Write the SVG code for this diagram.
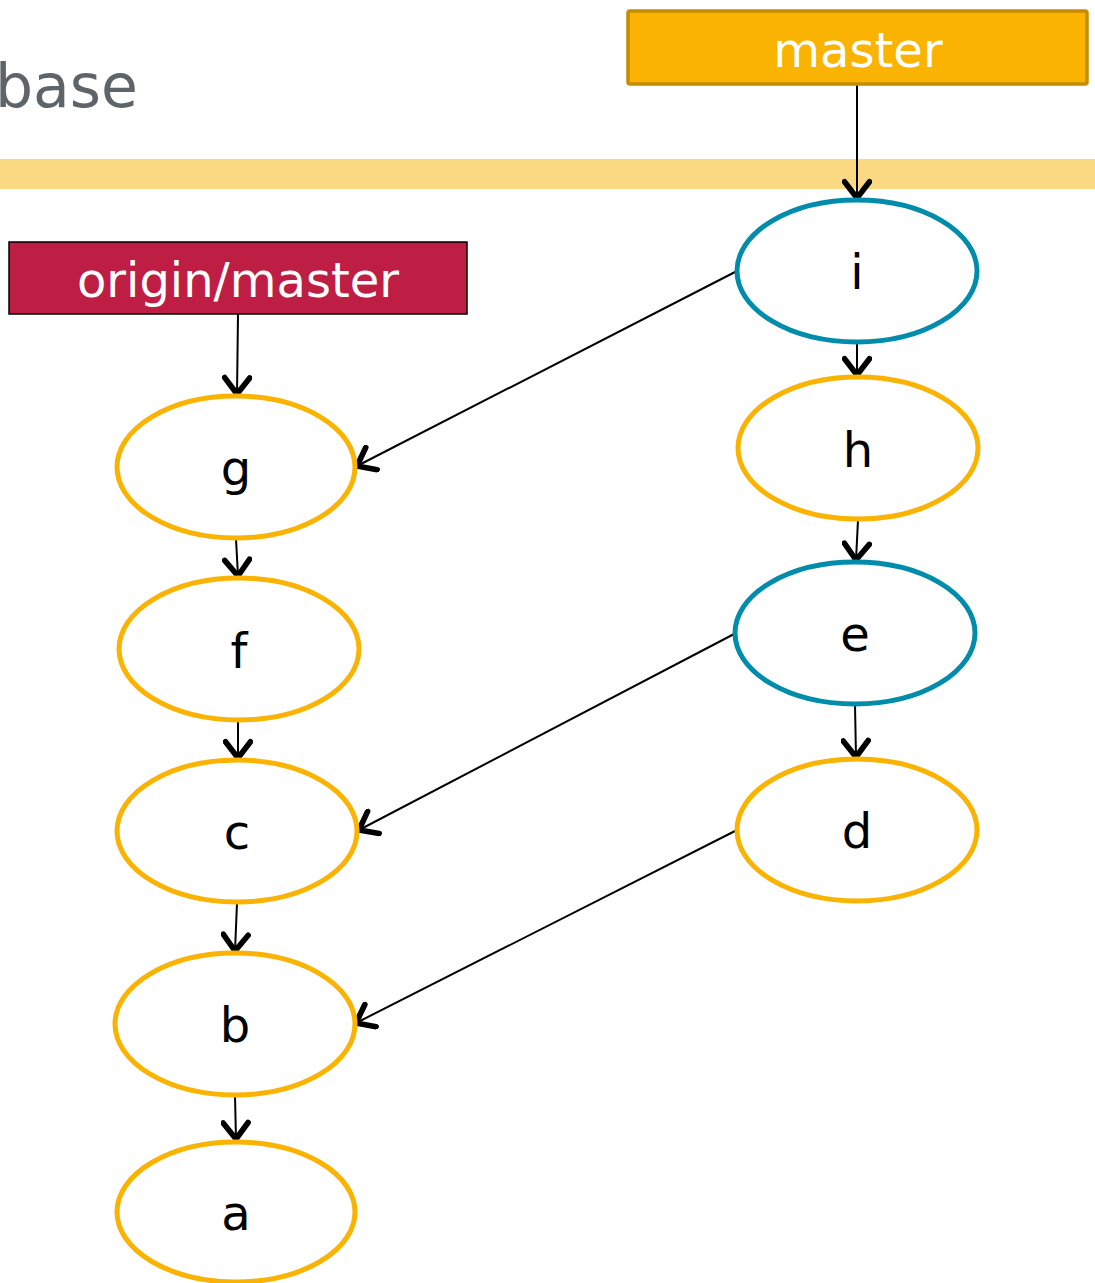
<svg xmlns="http://www.w3.org/2000/svg" width="1095" height="1283" viewBox="0 0 1095 1283">
<style>
.node{fill:#fff;stroke-width:5}
.o{stroke:#F9B300}
.t{stroke:#008CAA}
.lbl{font-family:"DejaVu Sans",Verdana,sans-serif;font-size:48px;fill:#000;text-anchor:middle}
.wl{font-family:"DejaVu Sans",Verdana,sans-serif;font-size:48px;fill:#fff;text-anchor:middle}
.edge{stroke:#000;stroke-width:2;fill:none;marker-end:url(#ah)}
</style>
<defs>
<marker id="ah" markerUnits="userSpaceOnUse" markerWidth="30" markerHeight="30" viewBox="-16 -12 20 24" refX="0" refY="0" orient="auto">
<path d="M-13,-10 L0,0 L-13,10" fill="none" stroke="#000" stroke-width="4.5" stroke-linecap="round" stroke-linejoin="round"/>
</marker>
</defs>
<rect width="1095" height="1283" fill="#fff"/>
<text x="138" y="107" font-family="'DejaVu Sans',Verdana,sans-serif" font-size="60" fill="#5F6469" text-anchor="end">base</text>
<rect x="0" y="159" width="1095" height="30" fill="#FAD982"/>
<g id="connectors">
<line class="edge" x1="857" y1="84" x2="857" y2="198"/>
<line class="edge" x1="238" y1="314" x2="237" y2="394"/>
<line class="edge" x1="857" y1="343" x2="857" y2="375"/>
<line class="edge" x1="858" y1="520" x2="856" y2="560"/>
<line class="edge" x1="855" y1="705" x2="856" y2="757"/>
<line class="edge" x1="737" y1="271" x2="357" y2="466"/>
<line class="edge" x1="236" y1="539" x2="238" y2="576"/>
<line class="edge" x1="238" y1="721" x2="238" y2="758"/>
<line class="edge" x1="736" y1="633" x2="359" y2="830"/>
<line class="edge" x1="237" y1="903" x2="235" y2="951"/>
<line class="edge" x1="737" y1="830" x2="356" y2="1023"/>
<line class="edge" x1="235" y1="1096" x2="236" y2="1139"/>
</g>
<g id="master">
<rect x="628" y="11" width="459" height="73" rx="2" fill="#FAB400" stroke="#C48C00" stroke-width="3.5"/>
<text class="wl" x="858" y="67">master</text>
</g>
<g id="origin-master">
<rect x="9" y="242" width="458" height="72" fill="#BE1E44" stroke="#000" stroke-width="1.5"/>
<text class="wl" x="238" y="297">origin/master</text>
</g>
<g id="node-i"><ellipse class="node t" cx="857" cy="271" rx="120" ry="71"/><text class="lbl" x="857" y="289">i</text></g>
<g id="node-h"><ellipse class="node o" cx="858" cy="448" rx="120" ry="71"/><text class="lbl" x="858" y="467">h</text></g>
<g id="node-e"><ellipse class="node t" cx="855" cy="633" rx="120" ry="71"/><text class="lbl" x="855" y="651">e</text></g>
<g id="node-d"><ellipse class="node o" cx="857" cy="830" rx="120" ry="71"/><text class="lbl" x="857" y="848">d</text></g>
<g id="node-g"><ellipse class="node o" cx="236" cy="467" rx="119" ry="71"/><text class="lbl" x="236" y="485">g</text></g>
<g id="node-f"><ellipse class="node o" cx="239" cy="649" rx="120" ry="71"/><text class="lbl" x="239" y="668">f</text></g>
<g id="node-c"><ellipse class="node o" cx="237" cy="831" rx="120" ry="71"/><text class="lbl" x="237" y="849">c</text></g>
<g id="node-b"><ellipse class="node o" cx="235" cy="1024" rx="120" ry="71"/><text class="lbl" x="235" y="1042">b</text></g>
<g id="node-a"><ellipse class="node o" cx="236" cy="1212" rx="119" ry="70"/><text class="lbl" x="236" y="1230">a</text></g>
</svg>
